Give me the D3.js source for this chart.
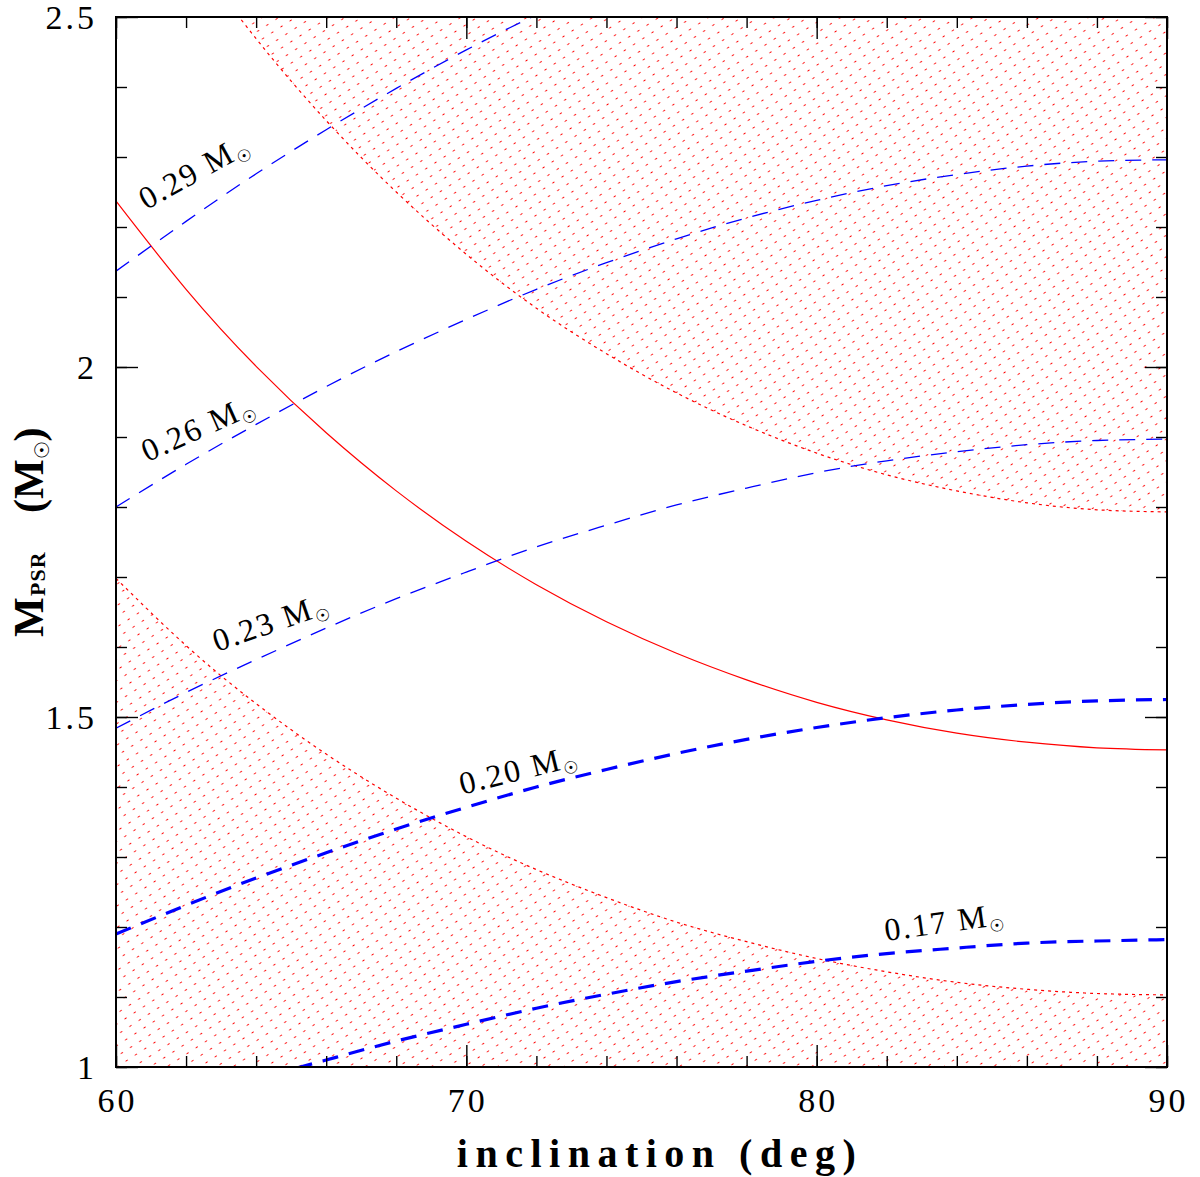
<!DOCTYPE html>
<html>
<head>
<meta charset="utf-8">
<script src="https://cdn.jsdelivr.net/npm/d3@7"></script>
<style>
  html, body { margin: 0; padding: 0; background: #fff; }
  svg { display: block; }
</style>
</head>
<body>
<svg id="chart" width="1200" height="1177"></svg>
<script>
// Orbital inclination samples (deg)
const inclination = [60, 62, 64, 66, 68, 70, 72, 74, 76, 78, 80, 82, 84, 86, 88, 90];

// Pulsar mass vs inclination for fixed companion masses (Msun)
const companionLabels = ["0.29", "0.26", "0.23", "0.20", "0.17"];
const mc029 = [2.137, 2.208, 2.276, 2.339, 2.398, 2.453, 2.503, 2.548];
const mc026 = [1.800, 1.861, 1.918, 1.972, 2.022, 2.068, 2.111, 2.149, 2.183, 2.213, 2.238, 2.259, 2.275, 2.287, 2.294, 2.296];
const mc023 = [1.484, 1.535, 1.582, 1.627, 1.669, 1.707, 1.743, 1.774, 1.803, 1.827, 1.849, 1.866, 1.879, 1.889, 1.895, 1.897];
const mc020 = [1.190, 1.231, 1.270, 1.306, 1.340, 1.371, 1.400, 1.425, 1.448, 1.468, 1.485, 1.499, 1.510, 1.518, 1.523, 1.525];
const mc017 = [0.919, 0.951, 0.982, 1.010, 1.037, 1.061, 1.084, 1.104, 1.122, 1.137, 1.151, 1.162, 1.170, 1.177, 1.180, 1.182];

// Red constraints: central relation and the edges of the excluded (hatched) zones
const massCentral = [2.237, 2.111, 2.001, 1.906, 1.823, 1.751, 1.689, 1.636, 1.591, 1.553, 1.521, 1.496, 1.477, 1.464, 1.456, 1.453];
const hatchUpperEdge = [2.761, 2.605, 2.469, 2.352, 2.250, 2.161, 2.084, 2.019, 1.963, 1.916, 1.877, 1.846, 1.823, 1.806, 1.796, 1.793];
const hatchLowerEdge = [1.698, 1.602, 1.519, 1.447, 1.384, 1.329, 1.282, 1.242, 1.207, 1.179, 1.155, 1.136, 1.121, 1.111, 1.105, 1.103];

// Axis tick labels
const xTickLabels = ["60", "70", "80", "90"];
const yTickLabels = ["1", "1.5", "2", "2.5"];

// ---- layout ----
const L = 116, R = 1167, T = 17, B = 1067;
const x = d3.scaleLinear().domain([60, 90]).range([L, R]);
const y = d3.scaleLinear().domain([1, 2.5]).range([B, T]);

const svg = d3.select("#chart");
const defs = svg.append("defs");
defs.append("clipPath").attr("id", "plotClip")
  .append("rect").attr("x", L).attr("y", T).attr("width", R - L).attr("height", B - T);

// dotted diagonal hatching
const pat = defs.append("pattern")
  .attr("id", "hatch")
  .attr("patternUnits", "userSpaceOnUse")
  .attr("width", 11).attr("height", 9)
  .attr("patternTransform", "rotate(-33)");
pat.append("line")
  .attr("x1", 0.5).attr("y1", 4.5).attr("x2", 2.8).attr("y2", 4.5)
  .attr("stroke", "#ff0000").attr("stroke-width", 1.0);

const pairs = arr => arr.map((m, k) => [inclination[k], m]);

const plot = svg.append("g").attr("clip-path", "url(#plotClip)");

// hatched excluded regions
plot.append("path")
  .datum(pairs(hatchUpperEdge))
  .attr("fill", "url(#hatch)")
  .attr("d", d3.area().x(d => x(d[0])).y0(d => y(d[1])).y1(y(2.5)).curve(d3.curveNatural));
plot.append("path")
  .datum(pairs(hatchLowerEdge))
  .attr("fill", "url(#hatch)")
  .attr("d", d3.area().x(d => x(d[0])).y0(d => y(d[1])).y1(y(1)).curve(d3.curveNatural));

const line = d3.line().x(d => x(d[0])).y(d => y(d[1])).curve(d3.curveNatural);

// dotted edges of hatched regions
[hatchUpperEdge, hatchLowerEdge].forEach(edge => {
  plot.append("path")
    .datum(pairs(edge))
    .attr("fill", "none")
    .attr("stroke", "#ff0000")
    .attr("stroke-width", 1.2)
    .attr("stroke-dasharray", "3,4")
    .attr("d", line);
});

// central red relation
plot.append("path")
  .datum(pairs(massCentral))
  .attr("fill", "none")
  .attr("stroke", "#ff0000")
  .attr("stroke-width", 1.2)
  .attr("d", line);

// companion-mass curves
const companionSeries = [mc029, mc026, mc023, mc020, mc017];
const thickSet = new Set(["0.20", "0.17"]);
companionSeries.forEach((s, k) => {
  const thick = thickSet.has(companionLabels[k]);
  plot.append("path")
    .datum(pairs(s))
    .attr("fill", "none")
    .attr("stroke", "#0000ff")
    .attr("stroke-width", thick ? 3.2 : 1.3)
    .attr("stroke-dasharray", "16,11")
    .attr("d", line);
});

// curve labels: [inclination, mass, rotation]
const labelPlacement = [
  [60.86, 2.224, 29],
  [60.89, 1.864, 24],
  [62.88, 1.593, 19],
  [69.88, 1.389, 14],
  [81.98, 1.180, 8]
];
companionLabels.forEach((lab, k) => {
  const [li, lm, ang] = labelPlacement[k];
  const t = svg.append("text")
    .attr("transform", `translate(${x(li)},${y(lm)}) rotate(${-ang})`)
    .attr("font-family", "'Liberation Serif', 'Times New Roman', serif")
    .attr("font-size", 32)
    .attr("letter-spacing", 2)
    .attr("fill", "#000");
  t.append("tspan").text(lab + " M");
  t.append("tspan")
    .attr("font-family", "'DejaVu Sans', sans-serif")
    .attr("font-size", 17)
    .attr("dy", 6)
    .text("\u2609");
});

// ---- axes: inward ticks on all four sides ----
const minorX = x.ticks(15), minorY = y.ticks(15);
const majorX = xTickLabels.map(Number), majorY = yTickLabels.map(Number);

function tickGroup(axis, transform) {
  const g = svg.append("g").attr("transform", transform).call(axis);
  g.select(".domain").remove();
  g.selectAll(".tick line").attr("stroke", "#000").attr("stroke-width", 1.4);
  g.selectAll(".tick text").remove();
  return g;
}
tickGroup(d3.axisBottom(x).tickValues(minorX).tickSize(-11), `translate(0,${B})`);
tickGroup(d3.axisBottom(x).tickValues(majorX).tickSize(-22), `translate(0,${B})`);
tickGroup(d3.axisTop(x).tickValues(minorX).tickSize(-11), `translate(0,${T})`);
tickGroup(d3.axisTop(x).tickValues(majorX).tickSize(-22), `translate(0,${T})`);
tickGroup(d3.axisLeft(y).tickValues(minorY).tickSize(-11), `translate(${L},0)`);
tickGroup(d3.axisLeft(y).tickValues(majorY).tickSize(-22), `translate(${L},0)`);
tickGroup(d3.axisRight(y).tickValues(minorY).tickSize(-11), `translate(${R},0)`);
tickGroup(d3.axisRight(y).tickValues(majorY).tickSize(-22), `translate(${R},0)`);

// frame
svg.append("rect")
  .attr("x", L).attr("y", T).attr("width", R - L).attr("height", B - T)
  .attr("fill", "none").attr("stroke", "#000").attr("stroke-width", 2);

// tick labels
const tickFont = "'Liberation Serif', 'Times New Roman', serif";
svg.append("g").selectAll("text").data(xTickLabels).join("text")
  .attr("x", d => x(+d) + 1.5)
  .attr("y", B + 45)
  .attr("text-anchor", "middle")
  .attr("font-family", tickFont)
  .attr("font-size", 34)
  .attr("letter-spacing", 3)
  .text(d => d);
svg.append("g").selectAll("text").data(yTickLabels).join("text")
  .attr("x", 97)
  .attr("y", d => y(+d) + 12)
  .attr("text-anchor", "end")
  .attr("font-family", tickFont)
  .attr("font-size", 34)
  .attr("letter-spacing", 3)
  .text(d => d);

// axis titles
svg.append("text")
  .attr("x", 660).attr("y", 1167)
  .attr("text-anchor", "middle")
  .attr("font-family", tickFont)
  .attr("font-weight", "bold")
  .attr("font-size", 40)
  .attr("letter-spacing", 7.5)
  .text("inclination (deg)");

const yTitle = svg.append("g").attr("transform", "translate(43,637) rotate(-90)")
  .attr("font-family", tickFont).attr("font-weight", "bold").attr("fill", "#000");
yTitle.append("text").attr("x", 0).attr("y", 0).attr("font-size", 42).text("M");
yTitle.append("text").attr("x", 41).attr("y", 2).attr("font-size", 22).attr("letter-spacing", 1).text("PSR");
const yt2 = yTitle.append("text").attr("x", 124).attr("y", 0).attr("font-size", 42);
yt2.append("tspan").text("(M");
yt2.append("tspan").attr("font-family", "'DejaVu Sans', sans-serif").attr("font-weight", "normal")
  .attr("font-size", 20).attr("dy", 6).text("\u2609");
yt2.append("tspan").attr("dy", -6).text(")");
</script>
</body>
</html>
